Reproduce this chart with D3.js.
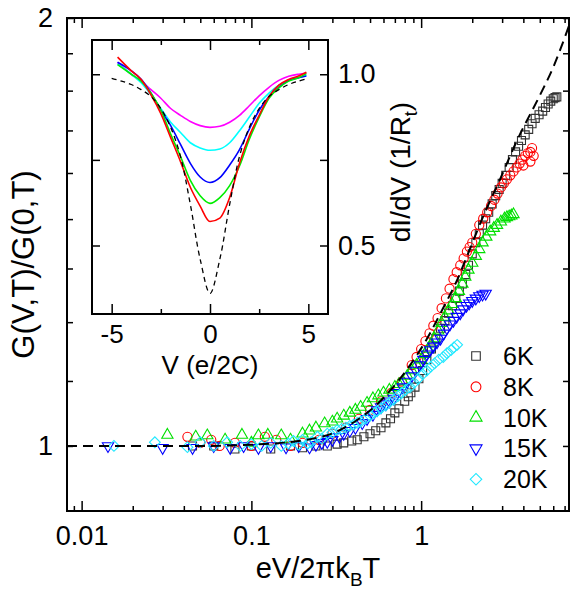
<!DOCTYPE html>
<html>
<head>
<meta charset="utf-8">
<script src="https://cdn.jsdelivr.net/npm/d3@7"></script>
<style>
  body { margin: 0; background: #fff; }
  svg text { font-family: "Liberation Sans", Arial, sans-serif; fill: #000; }
</style>
</head>
<body>
<svg id="chart" width="580" height="596"></svg>
<script>
// ---- main panel: [eV/2πkBT , G(V,T)/G(0,T)] ----
var pts6K = [[0.045,1.0],[0.06,1.0],[0.08,0.995],[0.1,1.0],[0.13,0.995],[0.17,1.0],[0.2,0.997],[0.24,1.0],[0.28,1.0],[0.32,1.003],[0.35,1.005],[0.39,1.008],[0.42,1.01],[0.46,1.015],[0.5,1.02],[0.54,1.025],[0.58,1.03],[0.62,1.038],[0.66,1.045],[0.7,1.055],[0.74,1.062],[0.8,1.075],[0.84,1.083],[0.87,1.09],[0.92,1.1],[0.97,1.115],[1.02,1.13],[1.08,1.15],[1.15,1.17],[1.22,1.19],[1.3,1.21],[1.38,1.225],[1.45,1.24],[1.53,1.255],[1.6,1.27],[1.68,1.285],[1.75,1.3],[1.83,1.32],[1.9,1.34],[2.0,1.365],[2.1,1.39],[2.2,1.41],[2.3,1.43],[2.4,1.445],[2.5,1.46],[2.62,1.48],[2.75,1.5],[2.88,1.515],[3.0,1.53],[3.15,1.55],[3.3,1.57],[3.45,1.59],[3.6,1.61],[3.75,1.625],[3.9,1.64],[4.1,1.655],[4.3,1.67],[4.5,1.685],[4.7,1.7],[4.95,1.71],[5.2,1.72],[5.4,1.73],[5.6,1.74],[5.8,1.748],[6.0,1.755],[6.15,1.758],[6.3,1.76]];
var pts8K = [[0.042,1.015],[0.05,1.005],[0.058,1.01],[0.065,1.0],[0.08,1.005],[0.1,1.0],[0.12,1.015],[0.14,1.01],[0.17,1.0],[0.2,1.005],[0.25,1.01],[0.3,1.02],[0.36,1.03],[0.43,1.045],[0.5,1.06],[0.58,1.075],[0.67,1.09],[0.77,1.11],[0.88,1.14],[0.94,1.155],[1.0,1.17],[1.06,1.185],[1.12,1.2],[1.18,1.215],[1.25,1.23],[1.32,1.25],[1.4,1.27],[1.47,1.29],[1.55,1.31],[1.62,1.325],[1.7,1.34],[1.78,1.355],[1.86,1.37],[1.93,1.38],[2.0,1.39],[2.1,1.41],[2.2,1.43],[2.32,1.445],[2.45,1.46],[2.58,1.475],[2.7,1.49],[2.82,1.505],[2.95,1.52],[3.07,1.53],[3.2,1.54],[3.35,1.55],[3.5,1.56],[3.65,1.57],[3.8,1.58],[3.95,1.59],[4.1,1.6],[4.25,1.607],[4.4,1.61],[4.5,1.62],[4.6,1.6],[4.4,1.585],[4.0,1.575]];
var pts10K = [[0.032,1.018],[0.047,1.015],[0.055,1.017],[0.07,1.01],[0.088,1.018],[0.1,1.005],[0.11,1.017],[0.125,1.018],[0.15,1.017],[0.17,1.01],[0.2,1.02],[0.22,1.025],[0.24,1.03],[0.27,1.037],[0.3,1.04],[0.32,1.045],[0.35,1.05],[0.38,1.055],[0.41,1.06],[0.44,1.065],[0.48,1.072],[0.52,1.08],[0.56,1.085],[0.6,1.09],[0.65,1.095],[0.7,1.1],[0.74,1.105],[0.78,1.11],[0.83,1.12],[0.88,1.13],[0.94,1.14],[1.0,1.15],[1.05,1.16],[1.1,1.17],[1.15,1.18],[1.2,1.19],[1.26,1.205],[1.32,1.22],[1.38,1.232],[1.45,1.245],[1.52,1.258],[1.6,1.27],[1.67,1.285],[1.75,1.3],[1.82,1.315],[1.9,1.33],[2.0,1.345],[2.1,1.36],[2.2,1.375],[2.3,1.39],[2.42,1.403],[2.55,1.415],[2.68,1.423],[2.8,1.43],[2.95,1.438],[3.1,1.445],[3.2,1.448],[3.3,1.45],[3.4,1.452],[3.5,1.455]];
var pts15K = [[0.0143,1.0],[0.03,0.997],[0.045,0.997],[0.06,1.0],[0.075,0.997],[0.09,1.0],[0.11,0.997],[0.13,1.0],[0.16,0.998],[0.19,1.0],[0.22,0.998],[0.24,1.002],[0.26,1.005],[0.28,1.007],[0.3,1.01],[0.33,1.015],[0.35,1.02],[0.38,1.025],[0.41,1.03],[0.45,1.038],[0.48,1.045],[0.52,1.052],[0.55,1.06],[0.58,1.065],[0.62,1.07],[0.65,1.075],[0.69,1.08],[0.73,1.09],[0.78,1.1],[0.83,1.11],[0.88,1.12],[0.93,1.13],[0.98,1.14],[1.03,1.15],[1.08,1.16],[1.13,1.168],[1.18,1.175],[1.24,1.183],[1.3,1.19],[1.36,1.2],[1.42,1.21],[1.48,1.218],[1.55,1.225],[1.62,1.233],[1.7,1.24],[1.77,1.248],[1.85,1.255],[1.92,1.26],[2.0,1.265],[2.1,1.27],[2.2,1.275],[2.3,1.278],[2.4,1.28]];
var pts20K = [[0.0155,1.0],[0.027,1.006],[0.042,0.998],[0.05,1.006],[0.06,1.0],[0.072,1.006],[0.086,1.0],[0.1,1.003],[0.115,1.0],[0.13,1.005],[0.15,1.0],[0.165,1.004],[0.177,1.008],[0.19,1.002],[0.2,1.01],[0.215,1.004],[0.225,1.006],[0.245,1.015],[0.26,1.012],[0.28,1.02],[0.3,1.022],[0.32,1.026],[0.34,1.028],[0.36,1.03],[0.38,1.033],[0.4,1.035],[0.42,1.038],[0.44,1.04],[0.47,1.045],[0.5,1.05],[0.53,1.055],[0.55,1.058],[0.58,1.063],[0.62,1.068],[0.65,1.073],[0.69,1.078],[0.73,1.084],[0.77,1.09],[0.81,1.095],[0.86,1.1],[0.91,1.108],[0.96,1.115],[1.02,1.123],[1.08,1.13],[1.14,1.137],[1.2,1.143],[1.27,1.15],[1.35,1.155],[1.42,1.162],[1.5,1.168],[1.56,1.173],[1.63,1.178]];

// theory (dashed)
var theoryX = [0.0082,0.05,0.1,0.15,0.222,0.303,0.42,0.551,0.684,0.861,1.084,1.346,1.628,1.864,2.317,2.915,3.67,5.01,5.98,7.43];
var theoryG = [1.0,1.0,1.002,1.005,1.011,1.021,1.043,1.07,1.1,1.14,1.19,1.25,1.308,1.36,1.45,1.54,1.64,1.765,1.845,1.975];

var seriesNames = ["6K","8K","10K","15K","20K"];
var seriesColors = ["#333333","#ff0000","#00e000","#0000ff","#22e8ff"];

// axis ticks
var xMajor = [0.01, 0.1, 1];
var xMinor = [0.009,0.02,0.03,0.04,0.05,0.06,0.07,0.08,0.09,0.2,0.3,0.4,0.5,0.6,0.7,0.8,0.9,2,3,4,5,6,7];
var yMajor = [1, 2];
var yMinor = [1.111,1.222,1.333,1.444,1.556,1.667,1.778,1.889];

// ---- inset: dI/dV vs V ----
var insetV = [-4.7,-4,-3.5,-3,-2.5,-2,-1.5,-1,-0.5,0,0.5,1,1.5,2,2.5,3,3.5,4,4.5,4.9];
var insetRed     = [1.05,1.01,0.985,0.94,0.885,0.815,0.745,0.67,0.615,0.57,0.58,0.64,0.74,0.82,0.88,0.935,0.968,0.985,0.995,1.006];
var insetGreen   = [1.028,1.0,0.98,0.945,0.895,0.825,0.76,0.69,0.645,0.623,0.64,0.675,0.732,0.81,0.875,0.93,0.96,0.98,0.99,1.002];
var insetBlue    = [1.035,1.01,0.985,0.945,0.895,0.85,0.795,0.74,0.7,0.684,0.698,0.735,0.78,0.84,0.895,0.935,0.962,0.982,0.99,0.995];
var insetCyan    = [1.03,1.0,0.975,0.94,0.9,0.86,0.83,0.8,0.785,0.778,0.782,0.8,0.835,0.875,0.915,0.945,0.968,0.982,0.99,0.997];
var insetMagenta = [1.035,1.0,0.98,0.955,0.93,0.9,0.88,0.862,0.85,0.845,0.848,0.86,0.88,0.908,0.937,0.962,0.982,0.994,1.0,1.003];
var insetTheoryV = [-5,-4.5,-4,-3.5,-3,-2.5,-2,-1.5,-1,-0.5,0,0.5,1,1.5,2,2.5,3,3.5,4,4.5,5];
var insetTheoryG = [0.988,0.98,0.97,0.955,0.935,0.9,0.845,0.76,0.62,0.46,0.36,0.46,0.62,0.76,0.845,0.9,0.935,0.955,0.97,0.98,0.988];
var insetTicksX = [-5, 0, 5];
var insetMinorX = [-2.5, 2.5];
var insetTicksY = [0.5, 1.0];
var insetMinorY = [0.75];

var svg = d3.select("#chart");
var FONT = "Liberation Sans, Arial, sans-serif";

// main frame
var L = 67, T = 18, R = 569, B = 511;
var x = d3.scaleLog().domain([0.0082, 7.43]).range([L, R]);
var y = d3.scaleLog().domain([0.9, 2]).range([B, T]);

function styleAxis(g, size) {
  g.select(".domain").remove();
  g.selectAll("line").attr("stroke", "#000").attr("stroke-width", 1.5);
  g.attr("font-family", FONT).attr("font-size", size);
  g.selectAll("text").attr("fill", "#000");
}

// bottom / top
styleAxis(svg.append("g").attr("transform", "translate(0," + B + ")")
  .call(d3.axisBottom(x).tickValues(xMinor).tickSize(-5).tickFormat("")), 27);
styleAxis(svg.append("g").attr("transform", "translate(0," + B + ")")
  .call(d3.axisBottom(x).tickValues(xMajor).tickSize(-10).tickPadding(15)
    .tickFormat(function(d) { return d3.format("")(d); })), 27);
styleAxis(svg.append("g").attr("transform", "translate(0," + T + ")")
  .call(d3.axisTop(x).tickValues(xMinor).tickSize(-5).tickFormat("")), 27);
styleAxis(svg.append("g").attr("transform", "translate(0," + T + ")")
  .call(d3.axisTop(x).tickValues(xMajor).tickSize(-10).tickFormat("")), 27);
// left / right
styleAxis(svg.append("g").attr("transform", "translate(" + L + ",0)")
  .call(d3.axisLeft(y).tickValues(yMinor).tickSize(-6).tickFormat("")), 27);
styleAxis(svg.append("g").attr("transform", "translate(" + L + ",0)")
  .call(d3.axisLeft(y).tickValues(yMajor).tickSize(-6).tickPadding(14).tickFormat(d3.format("d"))), 27);
styleAxis(svg.append("g").attr("transform", "translate(" + R + ",0)")
  .call(d3.axisRight(y).tickValues(yMinor.concat(yMajor)).tickSize(-6).tickFormat("")), 27);

svg.append("rect").attr("x", L).attr("y", T).attr("width", R - L).attr("height", B - T)
  .attr("fill", "none").attr("stroke", "#000").attr("stroke-width", 2);

// axis titles
svg.append("text").attr("transform", "translate(34," + ((T + B) / 2) + ") rotate(-90)")
  .attr("text-anchor", "middle").attr("font-size", 31).text("G(V,T)/G(0,T)");
var xt = svg.append("text").attr("x", (L + R) / 2).attr("y", 578)
  .attr("text-anchor", "middle").attr("font-size", 29);
xt.append("tspan").text("eV/2πk");
xt.append("tspan").attr("font-size", 19).attr("dy", 8).text("B");
xt.append("tspan").attr("dy", -8).text("T");

// markers
var symbols = [
  { type: d3.symbolSquare, size: 64, rot: 0 },
  { type: d3.symbolCircle, size: 66, rot: 0 },
  { type: d3.symbolTriangle, size: 55, rot: 0 },
  { type: d3.symbolTriangle, size: 55, rot: 180 },
  { type: d3.symbolSquare, size: 58, rot: 45 }
];
var allSeries = [pts6K, pts8K, pts10K, pts15K, pts20K];

allSeries.forEach(function(pts, i) {
  var s = symbols[i];
  svg.append("g").selectAll("path").data(pts).enter().append("path")
    .attr("d", d3.symbol().type(s.type).size(s.size))
    .attr("transform", function(d) { return "translate(" + x(d[0]) + "," + y(d[1]) + ") rotate(" + s.rot + ")"; })
    .attr("fill", "none").attr("stroke", seriesColors[i]).attr("stroke-width", 1.1);
});

// theory dashed line
var theory = theoryX.map(function(v, i) { return [v, theoryG[i]]; });
svg.append("path").datum(theory)
  .attr("d", d3.line().x(function(d) { return x(d[0]); }).y(function(d) { return y(d[1]); }).curve(d3.curveMonotoneX))
  .attr("fill", "none").attr("stroke", "#000").attr("stroke-width", 2).attr("stroke-dasharray", "10,6");

// legend
var legend = svg.append("g");
seriesNames.forEach(function(name, i) {
  var cy = 356 + i * 30.8;
  var s = symbols[i];
  legend.append("path").attr("d", d3.symbol().type(s.type).size(s.size * 1.15))
    .attr("transform", "translate(476," + cy + ") rotate(" + s.rot + ")")
    .attr("fill", "none").attr("stroke", seriesColors[i]).attr("stroke-width", 1.1);
  legend.append("text").attr("x", 503).attr("y", cy + 9).attr("font-size", 25).text(name);
});

// ---- inset ----
var iL = 92, iT = 40, iR = 328, iB = 314;
var ix = d3.scaleLinear().domain([-6, 6]).range([iL, iR]);
var iy = d3.scaleLinear().domain([0.3, 1.1]).range([iB, iT]);
var inset = svg.append("g");
inset.append("rect").attr("x", iL).attr("y", iT).attr("width", iR - iL).attr("height", iB - iT)
  .attr("fill", "#fff");

styleAxis(inset.append("g").attr("transform", "translate(0," + iB + ")")
  .call(d3.axisBottom(ix).tickValues(insetTicksX).tickSize(-10).tickPadding(11)), 26);
styleAxis(inset.append("g").attr("transform", "translate(0," + iB + ")")
  .call(d3.axisBottom(ix).tickValues(insetMinorX).tickSize(-5).tickFormat("")), 26);
styleAxis(inset.append("g").attr("transform", "translate(0," + iT + ")")
  .call(d3.axisTop(ix).tickValues(insetTicksX).tickSize(-10).tickFormat("")), 26);
styleAxis(inset.append("g").attr("transform", "translate(0," + iT + ")")
  .call(d3.axisTop(ix).tickValues(insetMinorX).tickSize(-5).tickFormat("")), 26);
styleAxis(inset.append("g").attr("transform", "translate(" + iL + ",0)")
  .call(d3.axisLeft(iy).tickValues(insetTicksY.concat(insetMinorY)).tickSize(-8).tickFormat("")), 26);
styleAxis(inset.append("g").attr("transform", "translate(" + iR + ",0)")
  .call(d3.axisRight(iy).tickValues(insetMinorY).tickSize(-8).tickFormat("")), 26);
styleAxis(inset.append("g").attr("transform", "translate(" + iR + ",0)")
  .call(d3.axisRight(iy).tickValues(insetTicksY).tickSize(-8).tickPadding(10).tickFormat(d3.format(".1f"))), 27);
inset.selectAll("text").filter(function() { return this.textContent.indexOf("−") === 0; })
  .text(function() { return "-" + this.textContent.slice(1); });

var insetCurves = [insetMagenta, insetCyan, insetBlue, insetGreen, insetRed];
var insetColors = ["#ff00ff", "#00ffff", "#0000ff", "#00ee00", "#ff0000"];
var iline = d3.line().x(function(d) { return ix(d[0]); }).y(function(d) { return iy(d[1]); });
insetCurves.forEach(function(c, i) {
  inset.append("path").datum(insetV.map(function(v, k) { return [v, c[k]]; }))
    .attr("d", iline.curve(d3.curveMonotoneX))
    .attr("fill", "none").attr("stroke", insetColors[i]).attr("stroke-width", 1.6);
});
inset.append("path").datum(insetTheoryV.map(function(v, k) { return [v, insetTheoryG[k]]; }))
  .attr("d", iline.curve(d3.curveCatmullRom))
  .attr("fill", "none").attr("stroke", "#000").attr("stroke-width", 1.3).attr("stroke-dasharray", "5,4");

inset.append("rect").attr("x", iL).attr("y", iT).attr("width", iR - iL).attr("height", iB - iT)
  .attr("fill", "none").attr("stroke", "#000").attr("stroke-width", 2);

inset.append("text").attr("x", (iL + iR) / 2).attr("y", 374).attr("text-anchor", "middle")
  .attr("font-size", 26).text("V (e/2C)");
var it = inset.append("text").attr("transform", "translate(410,172) rotate(-90)")
  .attr("text-anchor", "middle").attr("font-size", 28);
it.append("tspan").text("dI/dV (1/R");
it.append("tspan").attr("font-size", 18).attr("dy", 7).text("t");
it.append("tspan").attr("dy", -7).text(")");
</script>
</body>
</html>
